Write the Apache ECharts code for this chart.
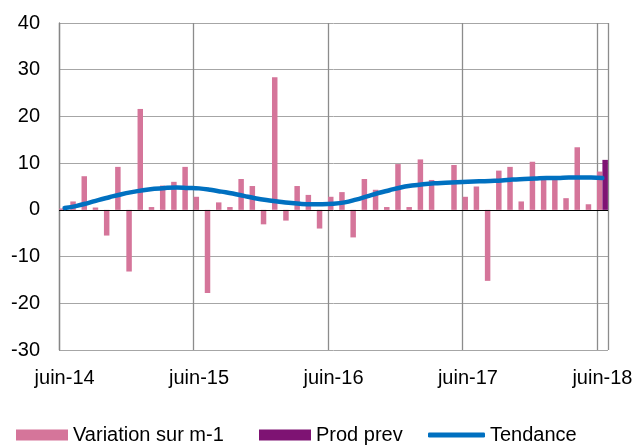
<!DOCTYPE html>
<html>
<head>
<meta charset="utf-8">
<script src="https://cdn.jsdelivr.net/npm/echarts@6/dist/echarts.min.js"></script>
<style>
  html, body { margin: 0; padding: 0; background: #fff; }
  #chart { width: 637px; height: 445px; }
</style>
</head>
<body>
<div id="chart"></div>
<script>
// mois de juin-14 a juin-18
var monthNames = ['juin', 'juil.', 'août', 'sept.', 'oct.', 'nov.', 'déc.', 'janv.', 'févr.', 'mars', 'avr.', 'mai'];
var startYear = 14;
var nbMonths = 49;

var variation = [
  0.3, 1.8, 7.2, 0.5, -5.5, 9.2, -13.2, 21.6, 0.6, 5.2, 6.0, 9.2,
  2.8, -17.8, 1.6, 0.6, 6.6, 5.1, -3.1, 28.4, -2.3, 5.1, 3.2, -4.0,
  2.8, 3.8, -5.9, 6.6, 4.3, 0.6, 9.8, 0.6, 10.8, 6.4, 0, 9.6,
  2.8, 5.0, -15.2, 8.4, 9.2, 1.8, 10.3, 6.6, 6.5, 2.5, 13.4, 1.2,
  8.2
];

var prodPrevIndex = 48;
var prodPrevValue = 10.7;

var tendance = [
  0.4, 0.8, 1.4, 2.1, 2.7, 3.3, 3.8, 4.2, 4.5, 4.7, 4.8, 4.7,
  4.6, 4.3, 3.9, 3.5, 3.0, 2.5, 2.1, 1.8, 1.5, 1.3, 1.2, 1.2,
  1.3, 1.6, 2.2, 2.9, 3.6, 4.2, 4.8, 5.2, 5.5, 5.7, 5.8, 5.9,
  6.0, 6.1, 6.2, 6.3, 6.5, 6.6, 6.7, 6.8, 6.8, 6.9, 6.9, 6.9,
  6.8
];

var categories = [];
for (var i = 0; i < nbMonths; i++) {
  var m = i % 12;
  // janvier arrive au 8e mois depuis juin
  var y = startYear + Math.floor((i + 5) / 12);
  categories.push(monthNames[m] + '-' + y);
}

var prodPrev = categories.map(function (c, i) {
  return i === prodPrevIndex ? prodPrevValue : null;
});

var font = 'Liberation Sans, Arial, sans-serif';
var legendText = { fontFamily: font, fontSize: 20, color: '#000' };

var chart = echarts.init(document.getElementById('chart'));
chart.setOption({
  animation: false,
  grid: { left: 59, right: 29, top: 23, bottom: 95 },
  legend: [
    {
      data: [{ name: 'Variation sur m-1', icon: 'rect' }],
      left: 11, top: 420, itemWidth: 52, itemHeight: 11,
      textStyle: legendText
    },
    {
      data: [{ name: 'Prod prev', icon: 'rect' }],
      left: 254, top: 420, itemWidth: 52, itemHeight: 11,
      textStyle: legendText
    },
    {
      data: [{ name: 'Tendance', icon: 'roundRect' }],
      left: 423, top: 420, itemWidth: 57, itemHeight: 5,
      textStyle: legendText
    }
  ],
  xAxis: {
    type: 'category',
    data: categories,
    boundaryGap: true,
    axisLine: { show: false },
    axisTick: { show: false },
    axisLabel: {
      interval: 11,
      margin: 18,
      fontFamily: font, fontSize: 20, color: '#000'
    },
    splitLine: {
      show: true,
      interval: 11,
      lineStyle: { color: '#8c8c8c', width: 1.3 }
    }
  },
  yAxis: {
    type: 'value',
    min: -30, max: 40, interval: 10,
    axisLine: { show: true, lineStyle: { color: '#868686', width: 1.3 } },
    axisTick: { show: false },
    axisLabel: { margin: 19, fontFamily: font, fontSize: 20, color: '#000' },
    splitLine: { lineStyle: { color: '#a6a6a6', width: 1 } }
  },
  series: [
    {
      name: 'Variation sur m-1',
      type: 'bar',
      data: variation,
      barGap: '0%',
      barCategoryGap: '2%',
      itemStyle: { color: '#D5759A' },
      markLine: {
        silent: true,
        symbol: 'none',
        label: { show: false },
        lineStyle: { color: '#000', width: 1, type: 'solid' },
        data: [{ yAxis: 0 }]
      }
    },
    {
      name: 'Prod prev',
      type: 'bar',
      data: prodPrev,
      itemStyle: { color: '#7E1373' }
    },
    {
      name: 'Tendance',
      type: 'line',
      data: tendance,
      smooth: 0.4,
      symbol: 'none',
      z: 5,
      lineStyle: { color: '#0070C0', width: 4.5, cap: 'round' },
      itemStyle: { color: '#0070C0' }
    }
  ]
});
</script>
</body>
</html>
